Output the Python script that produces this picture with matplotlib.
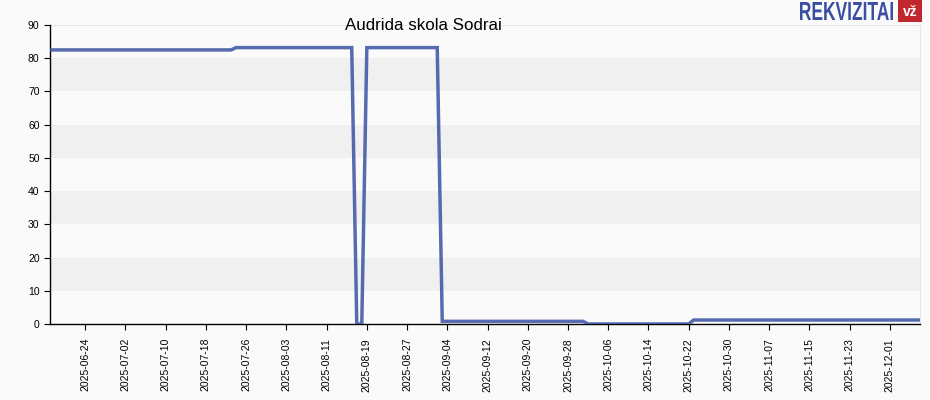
import numpy as np
import pandas as pd
import matplotlib
matplotlib.use("Agg")
import matplotlib.pyplot as plt
from matplotlib.patches import Rectangle, PathPatch
from matplotlib.textpath import TextPath
from matplotlib.font_manager import FontProperties
from matplotlib.transforms import Affine2D

plt.rcParams['font.family'] = ['Liberation Sans', 'DejaVu Sans']

# points where the series changes
dates = ["2025-06-17", "2025-07-23", "2025-07-24", "2025-08-16", "2025-08-17",
         "2025-08-18", "2025-08-19", "2025-09-02", "2025-09-03", "2025-10-01",
         "2025-10-02", "2025-10-22", "2025-10-23", "2025-12-07"]
values = [82.5, 82.5, 83.2, 83.2, 0.0,
          0.0, 83.2, 83.2, 0.8, 0.8,
          0.0, 0.0, 1.2, 1.2]

title = "Audrida skola Sodrai"
y_ticks = list(range(0, 100, 10))
x_tick_start = "2025-06-24"
x_tick_end = "2025-12-01"

bg = "#fafafa"
band = "#f0f0f0"
line_col = "#3a52a3"

x = pd.to_datetime(dates)

W, H = 930, 400
fig = plt.figure(figsize=(9.3, 4.0), dpi=100, facecolor=bg)
ax = fig.add_axes([50/W, 76/H, 870/W, 299/H])
ax.set_facecolor(bg)

# alternating bands
for lo in range(10, 90, 20):
    ax.axhspan(lo, lo + 10, color=band, zorder=0, lw=0)
ax.axhline(90, color="#e6e6e6", lw=0.8, zorder=0)

ax.plot(x, values, color=line_col, lw=2.5, alpha=0.85, solid_joinstyle="miter", zorder=3)

ax.set_xlim(x[0], x[-1])
ax.set_ylim(0, 90)
ax.set_yticks(y_ticks)
ticks = pd.date_range(x_tick_start, x_tick_end, freq="8D")
ax.set_xticks(ticks)
ax.set_xticklabels([t.strftime("%Y-%m-%d") for t in ticks], rotation=90)
ax.tick_params(axis="both", labelsize=7.5, length=4, width=0.8, color="black")
ax.tick_params(axis="x", pad=6)

ax.spines["top"].set_visible(False)
ax.spines["right"].set_color("#e6e6e6")
ax.spines["left"].set_linewidth(1)
ax.spines["bottom"].set_linewidth(1)

fig.text(423/W, 1 - 26/H, title, ha="center", va="center", fontsize=12.2)

# logo: squeezed bold text into its box (pixel coords)
tp = TextPath((0, 0), "REKVIZITAI", size=1, prop=FontProperties(family="Liberation Sans", weight="bold"))
ext = tp.get_extents()
x0, x1, y0, y1 = 800, 893, H - 20, H - 2
tr = Affine2D().translate(-ext.x0, -ext.y0).scale((x1 - x0) / ext.width, (y1 - y0) / ext.height).translate(x0, y0)
fig.patches.append(PathPatch(tp, transform=tr, facecolor="#3a4ea2", edgecolor="none"))
fig.patches.append(Rectangle((898/W, 1 - 22/H), 24/W, 22/H, transform=fig.transFigure,
                             facecolor="#c1272d", edgecolor="none"))
fig.text(910/W, 1 - 12/H, "vž", ha="center", va="center", fontsize=10,
         fontweight="bold", color="white")

fig.savefig("out.png", dpi=100, facecolor=bg)
